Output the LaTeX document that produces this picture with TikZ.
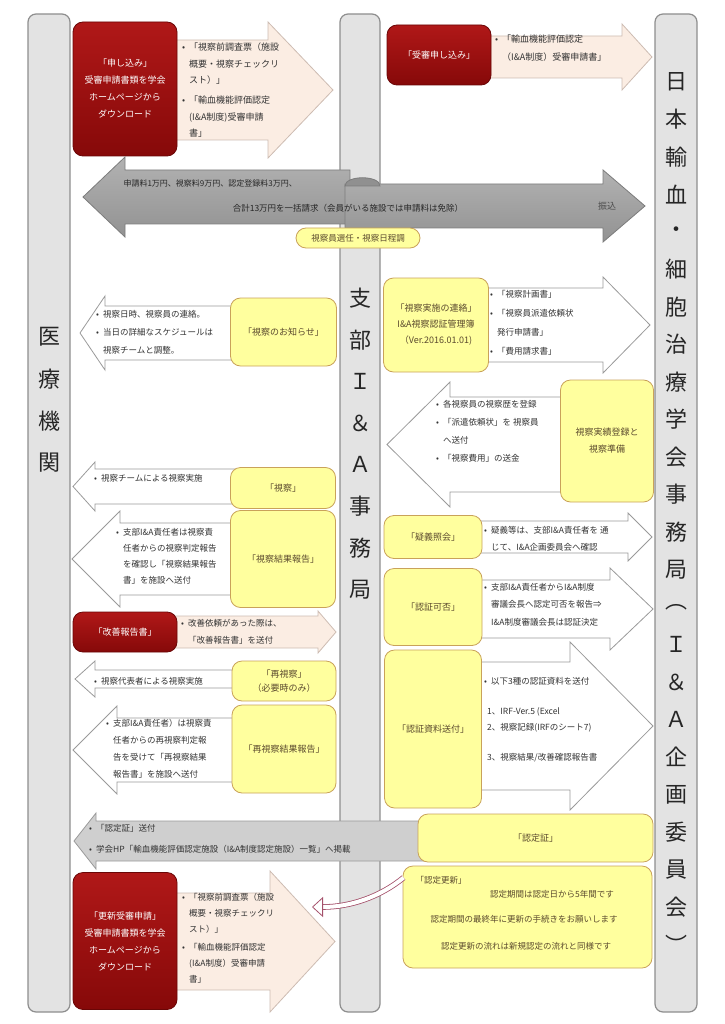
\documentclass[tikz,border=0pt]{standalone}
\usepackage{fontspec}
\setmainfont{Noto Sans CJK JP}
\usetikzlibrary{arrows.meta}

\definecolor{barfill}{HTML}{E3E3E3}
\definecolor{barline}{HTML}{8E8E8E}
\definecolor{darkred}{HTML}{860909}
\definecolor{redtop}{HTML}{B01818}
\definecolor{redline}{HTML}{6A0606}
\definecolor{peachfill}{HTML}{FBEDE3}
\definecolor{peachline}{HTML}{CDBCB2}
\definecolor{yelfill}{HTML}{FFFF9E}
\definecolor{yelline}{HTML}{C9A25A}
\definecolor{yeltext}{HTML}{5B4A2E}
\definecolor{arrline}{HTML}{9A9A9A}
\definecolor{greyfill}{HTML}{929292}
\definecolor{greytop}{HTML}{B2B2B2}
\definecolor{greyline}{HTML}{7C7C7C}
\definecolor{certfill}{HTML}{CFCFCF}
\definecolor{notetext}{HTML}{333333}
\definecolor{curvecol}{HTML}{A4506A}

\newcommand{\fs}[2]{\fontsize{#1}{#2}\selectfont}
\newcommand{\bl}{\makebox[7pt][l]{•}}
\newcommand{\ind}{\hspace*{7pt}}
% block arrow: style, body end, head base, tip, body top, body bottom, head overhang
\newcommand{\blockarrow}[7]{%
  \draw[#1] (#2,#5) -- (#3,#5) -- (#3,{#5-#7}) -- (#4,{(#5+#6)/2})
    -- (#3,{#6+#7}) -- (#3,#6) -- (#2,#6) -- cycle;}

\begin{document}
\begin{tikzpicture}[x=1pt,y=-1pt,
  bar/.style={draw=barline, fill=barfill, line width=1.2pt, rounded corners=8pt},
  redbox/.style={draw=redline, top color=redtop, bottom color=darkred, rounded corners=10pt,
    text=white, align=center, font=\fs{9}{17}, line width=0.8pt},
  yelbox/.style={draw=yelline, fill=yelfill, rounded corners=10pt, text=yeltext,
    align=center, font=\fs{9}{15}, line width=0.8pt},
  peach/.style={draw=peachline, fill=peachfill, line width=0.8pt},
  plain/.style={draw=arrline, fill=white, line width=0.8pt},
  heavy/.style={draw=greyline, top color=greytop, bottom color=greyfill, line width=0.8pt},
  certarr/.style={draw=arrline, fill=certfill, line width=0.8pt},
  note/.style={anchor=north west, inner sep=0pt, align=left, text=notetext, font=\fs{9}{17}},
  vlabel/.style={font=\fs{22}{22}, inner sep=0pt, text=black!85},
  renewlink/.style={draw=curvecol, line width=0.8pt, double=white, double distance=4pt,
    -{Triangle[open, length=11pt, width=20pt]}},
]
\useasboundingbox (0,0) rectangle (724,1024);

% lanes
\node[bar, minimum width=42pt, minimum height=998pt] (clinic) at (49,513) {};
\node[bar, minimum width=40pt, minimum height=998pt] (branch) at (360,513) {};
\node[bar, minimum width=42pt, minimum height=998pt] (society) at (676,513) {};

\foreach \c [count=\i] in {医,療,機,関}
  \node[vlabel] (clinic\i) at (49,{337+(\i-1)*42}) {\c};
\foreach \c [count=\i] in {支,部,Ｉ,＆,Ａ,事,務,局}
  \node[vlabel] (branch\i) at (360,{298+(\i-1)*41.7}) {\c};
\foreach \c [count=\i] in {日,本,輸,血,・,細,胞,治,療,学,会,事,務,局,︵,Ｉ,＆,Ａ,企,画,委,員,会,︶}
  \node[vlabel] (society\i) at (676,{82+(\i-1)*37.5}) {\c};

% application
\blockarrow{peach}{170}{268}{333}{40}{140}{18}
\node[redbox, minimum width=104pt, minimum height=134pt] (apply) at (125,89)
  {「申し込み」\\受審申請書類を学会\\ホームページから\\ダウンロード};
\node[note, font=\fs{9}{16.5}] (applydocs) at (182,43)
  {\bl「視察前調査票（施設\\\ind 概要・視察チェックリ\\\ind スト）」\\[3.5pt]
   \bl「輸血機能評価認定\\\ind (I\&A制度)受審申請\\\ind 書」};

\blockarrow{peach}{485}{622}{652}{36}{78}{12}
\node[redbox, minimum width=104pt, minimum height=60pt] (entry) at (439,55) {「受審申し込み」};
\node[note, font=\fs{9}{18}] (entrydocs) at (495,35)
  {\bl「輸血機能評価認定\\\ind（I\&A制度）受審申請書」};

% fees
\blockarrow{heavy}{350}{125}{83}{170}{224}{13}
\blockarrow{heavy}{345}{603}{645}{184}{228}{14}
\draw[draw=greyline, fill=greyline!85, line width=0.8pt] (345,186)
  .. controls (345,175) and (380,175) .. (380,186) -- cycle;
\node[anchor=west, font=\fs{8}{8}, text=black!85] (fees) at (120,183)
  {申請料1万円、視察料9万円、認定登録料3万円、};
\node[font=\fs{8.5}{8.5}, text=black!85] (total) at (348,208)
  {合計13万円を一括請求（会員がいる施設では申請料は免除）};
\node[font=\fs{9}{9}, text=black!70] (transfer) at (607,206) {振込};
\node[yelbox, minimum width=124pt, minimum height=20pt, font=\fs{8.5}{8.5}] (select) at (358,238)
  {視察員選任・視察日程調};

% notice
\blockarrow{plain}{290}{105}{80}{306}{360}{10}
\node[note, font=\fs{8.5}{18}] (noticetext) at (96,310)
  {\bl 視察日時、視察員の連絡。\\\bl 当日の詳細なスケジュールは\\\ind 視察チームと調整。};
\node[yelbox, minimum width=106pt, minimum height=68pt] (notice) at (283.5,332) {「視察のお知らせ」};

% contact
\blockarrow{plain}{480}{603}{650}{288}{362}{11}
\node[yelbox, minimum width=105pt, minimum height=94pt, font=\fs{9}{16}] (contact) at (436,325)
  {「視察実施の連絡」\\I\&A視察認証管理簿\\（Ver.2016.01.01)};
\node[note, font=\fs{8.5}{19}] (contactdocs) at (490,290)
  {\bl「視察計画書」\\\bl「視察員派遣依頼状\\\ind 発行申請書」\\\bl「費用請求書」};

% record
\blockarrow{plain}{570}{450}{387}{397}{492}{15}
\node[yelbox, minimum width=93pt, minimum height=122pt, font=\fs{9}{17}] (record) at (607,441)
  {視察実績登録と\\視察準備};
\node[note, font=\fs{8.5}{18}] (recordtext) at (436,400)
  {\bl 各視察員の視察歴を登録\\\bl「派遣依頼状」を\ 視察員\\\ind へ送付\\\bl「視察費用」の送金};

% visit
\blockarrow{plain}{250}{95}{73}{469}{504}{7}
\node[note, font=\fs{8.5}{17}] (visittext) at (94,474) {\bl 視察チームによる視察実施};
\node[yelbox, minimum width=105pt, minimum height=41pt] (visit) at (283,488) {「視察」};

% result
\blockarrow{plain}{250}{120}{72}{523}{595}{12}
\node[note, font=\fs{8.5}{16}] (resulttext) at (116,528)
  {\bl 支部I\&A責任者は視察責\\\ind 任者からの視察判定報告\\\ind を確認し「視察結果報告\\\ind 書」を施設へ送付};
\node[yelbox, minimum width=105pt, minimum height=97pt] (result) at (283,559) {「視察結果報告」};

% query
\blockarrow{plain}{470}{628}{652}{521}{553}{8}
\node[yelbox, minimum width=98pt, minimum height=43pt] (query) at (433,537) {「疑義照会」};
\node[note, font=\fs{8.5}{17}] (querytext) at (484,526)
  {\bl 疑義等は、支部I\&A責任者を\ 通\\\ind じて、I\&A企画委員会へ確認};

% judge
\blockarrow{plain}{470}{610}{653}{580}{638}{12}
\node[yelbox, minimum width=98pt, minimum height=77pt] (judge) at (433,607) {「認証可否」};
\node[note, font=\fs{8.5}{17.5}] (judgetext) at (484,583)
  {\bl 支部I\&A責任者からI\&A制度\\\ind 審議会長へ認定可否を報告⇒\\\ind I\&A制度審議会長は認証決定};

% improve
\blockarrow{peach}{170}{318}{336}{616}{648}{5}
\node[redbox, minimum width=104pt, minimum height=40pt] (improve) at (125,632) {「改善報告書」};
\node[note, font=\fs{8.5}{17}] (improvetext) at (181,619)
  {\bl 改善依頼があった際は、\\\ind「改善報告書」を送付};

% revisit
\blockarrow{plain}{250}{95}{75}{670}{688}{9}
\node[note, font=\fs{8.5}{17}] (revisittext) at (94,677) {\bl 視察代表者による視察実施};
\node[yelbox, minimum width=104pt, minimum height=40pt, font=\fs{9}{14}] (revisit) at (284,681)
  {「再視察」\\（必要時のみ）};

% re-result
\blockarrow{plain}{250}{117}{73}{718}{782}{12}
\node[note, font=\fs{8.5}{17}] (reresulttext) at (106,719)
  {\bl 支部I\&A責任者）は視察責\\\ind 任者からの再視察判定報\\\ind 告を受けて「再視察結果\\\ind 報告書」を施設へ送付};
\node[yelbox, minimum width=104pt, minimum height=88pt] (reresult) at (284,749) {「再視察結果報告」};

% documents
\blockarrow{plain}{470}{570}{653}{662}{790}{20}
\node[yelbox, minimum width=97pt, minimum height=158pt] (docs) at (433,729) {「認証資料送付」};
\node[note, font=\fs{8.5}{16}] (docstext) at (484,677)
  {\bl 以下3種の認証資料を送付\\[14pt]\hspace*{3pt}1、IRF-Ver.5 (Excel\\
   \hspace*{3pt}2、視察記録(IRFのシート7)\\[14pt]\hspace*{3pt}3、視察結果/改善確認報告書};

% certificate
\blockarrow{certarr}{430}{96}{74}{821}{861}{8}
\node[note, font=\fs{8.5}{21}] (certtext) at (89,824)
  {\bl「認定証」送付\\\bl 学会HP「輸血機能評価認定施設（I\&A制度認定施設）一覧」へ掲載};
\node[yelbox, minimum width=235pt, minimum height=48pt] (cert) at (535.5,838) {「認定証」};

% renewal
\blockarrow{peach}{170}{270}{335}{893}{990}{22}
\node[redbox, minimum width=104pt, minimum height=137pt] (reapply) at (125,941)
  {「更新受審申請」\\受審申請書類を学会\\ホームページから\\ダウンロード};
\node[note, font=\fs{8.5}{16}] (reapplydocs) at (182,893)
  {\bl「視察前調査票（施設\\\ind 概要・視察チェックリ\\\ind スト）」\\[2pt]
   \bl「輸血機能評価認定\\\ind (I\&A制度）受審申請\\\ind 書」};

\node[yelbox, minimum width=249pt, minimum height=102pt] (renew) at (527.5,917) {};
\node[anchor=west, font=\fs{8.5}{8.5}, text=yeltext] (renewtitle) at (412,880) {「認定更新」};
\node[font=\fs{8.5}{8.5}, text=yeltext] (renewline1) at (552,894) {認定期間は認定日から5年間です};
\node[font=\fs{8.5}{8.5}, text=yeltext] (renewline2) at (524,919) {認定期間の最終年に更新の手続きをお願いします};
\node[font=\fs{8.5}{8.5}, text=yeltext] (renewline3) at (526,946) {認定更新の流れは新規認定の流れと同様です};

\coordinate (renewtip) at (312,907);
\draw[renewlink] ([xshift=1pt,yshift=-12pt]renew.north west)
  .. controls (380,897) and (350,907) .. (renewtip);
\end{tikzpicture}
\end{document}
